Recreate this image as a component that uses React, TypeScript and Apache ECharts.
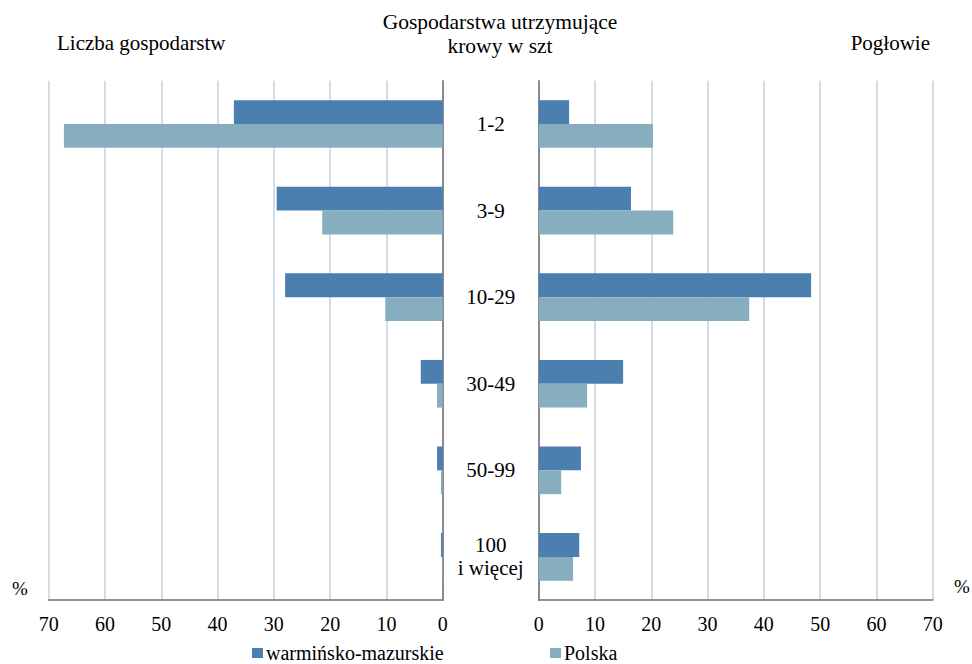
import React, { useEffect, useRef } from "react";
import * as echarts from "echarts";

const categories = ["1-2", "3-9", "10-29", "30-49", "50-99", "100\ni więcej"];
const seriesNames = ["warmińsko-mazurskie", "Polska"];
const farmsWM = [37.1, 29.5, 28.0, 3.9, 1.0, 0.3];
const farmsPL = [67.3, 21.4, 10.2, 1.0, 0.3, 0.1];
const herdWM = [5.4, 16.4, 48.4, 15.0, 7.5, 7.2];
const herdPL = [20.3, 23.9, 37.4, 8.6, 4.0, 6.1];
const tickMax = 70;
const tickStep = 10;

const FONT = "'Liberation Serif', 'Times New Roman', serif";
const C_WM = "#4a7fb0";
const C_PL = "#86aebe";
const GRID_C = "#c6d2df";
const AXIS_C = "#707070";

const txt = (size: number, extra: any = {}) => ({
  fontFamily: FONT,
  fontSize: size,
  fontWeight: "normal",
  color: "#000",
  ...extra,
});

export default function App() {
  const ref = useRef<HTMLDivElement>(null);
  useEffect(() => {
    document.body.style.margin = "0";
    const chart = echarts.init(ref.current!, null, { renderer: "svg" });
    const valueAxis = (gridIndex: number, inverse: boolean) => ({
      type: "value",
      gridIndex,
      inverse,
      min: 0,
      max: tickMax,
      interval: tickStep,
      axisLine: { show: true, lineStyle: { color: AXIS_C, width: 1.5 } },
      axisTick: { show: false },
      splitLine: { show: true, lineStyle: { color: GRID_C, width: 1.5 } },
      axisLabel: { color: "#000", fontFamily: FONT, fontSize: 20, margin: 14 },
    });
    const barStyle = { barCategoryGap: "45%", barGap: "0%" };
    const legendItem = (name: string, left: number) => ({
      data: [name],
      left,
      top: 643,
      padding: 0,
      icon: "rect",
      itemWidth: 11,
      itemHeight: 10,
      textStyle: txt(20, { lineHeight: 20, padding: [0, 0, 0, -2] }),
      selectedMode: false,
    });
    chart.setOption({
      animation: false,
      backgroundColor: "#fff",
      textStyle: { fontFamily: FONT },
      title: [
        { text: "Liczba gospodarstw", left: 57, top: 32, padding: 0, textStyle: txt(21) },
        {
          text: "Gospodarstwa utrzymujące\nkrowy w szt",
          left: 500,
          top: 10,
          padding: 0,
          textAlign: "center",
          textStyle: txt(21.5, { lineHeight: 24 }),
        },
        { text: "Pogłowie", right: 42, top: 32, padding: 0, textStyle: txt(21) },
        { text: "%", left: 12, top: 579, padding: 0, textStyle: txt(19) },
        { text: "%", left: 954, top: 577, padding: 0, textStyle: txt(19) },
      ],
      legend: [legendItem(seriesNames[0], 252), legendItem(seriesNames[1], 550)],
      grid: [
        { left: 48.7, width: 394, top: 80.7, height: 519.5, containLabel: false },
        { left: 538.7, width: 394, top: 80.7, height: 519.5, containLabel: false },
      ],
      xAxis: [valueAxis(0, true), valueAxis(1, false)],
      yAxis: [
        {
          type: "category",
          gridIndex: 0,
          data: categories,
          inverse: true,
          position: "right",
          axisLine: { show: true, lineStyle: { color: AXIS_C, width: 1.5 } },
          axisTick: { show: false },
          axisLabel: { show: false },
        },
        {
          type: "category",
          gridIndex: 1,
          data: categories,
          inverse: true,
          position: "left",
          axisLine: { show: true, lineStyle: { color: AXIS_C, width: 1.5 } },
          axisTick: { show: false },
          axisLabel: {
            show: true,
            align: "center",
            margin: 48,
            color: "#000",
            fontFamily: FONT,
            fontSize: 21,
            lineHeight: 23,
          },
        },
      ],
      series: [
        { name: seriesNames[0], type: "bar", xAxisIndex: 0, yAxisIndex: 0, data: farmsWM, itemStyle: { color: C_WM }, ...barStyle },
        { name: seriesNames[1], type: "bar", xAxisIndex: 0, yAxisIndex: 0, data: farmsPL, itemStyle: { color: C_PL }, ...barStyle },
        { name: seriesNames[0], type: "bar", xAxisIndex: 1, yAxisIndex: 1, data: herdWM, itemStyle: { color: C_WM }, ...barStyle },
        { name: seriesNames[1], type: "bar", xAxisIndex: 1, yAxisIndex: 1, data: herdPL, itemStyle: { color: C_PL }, ...barStyle },
      ],
    });
    return () => chart.dispose();
  }, []);
  return <div ref={ref} style={{ width: 972, height: 664 }} />;
}
